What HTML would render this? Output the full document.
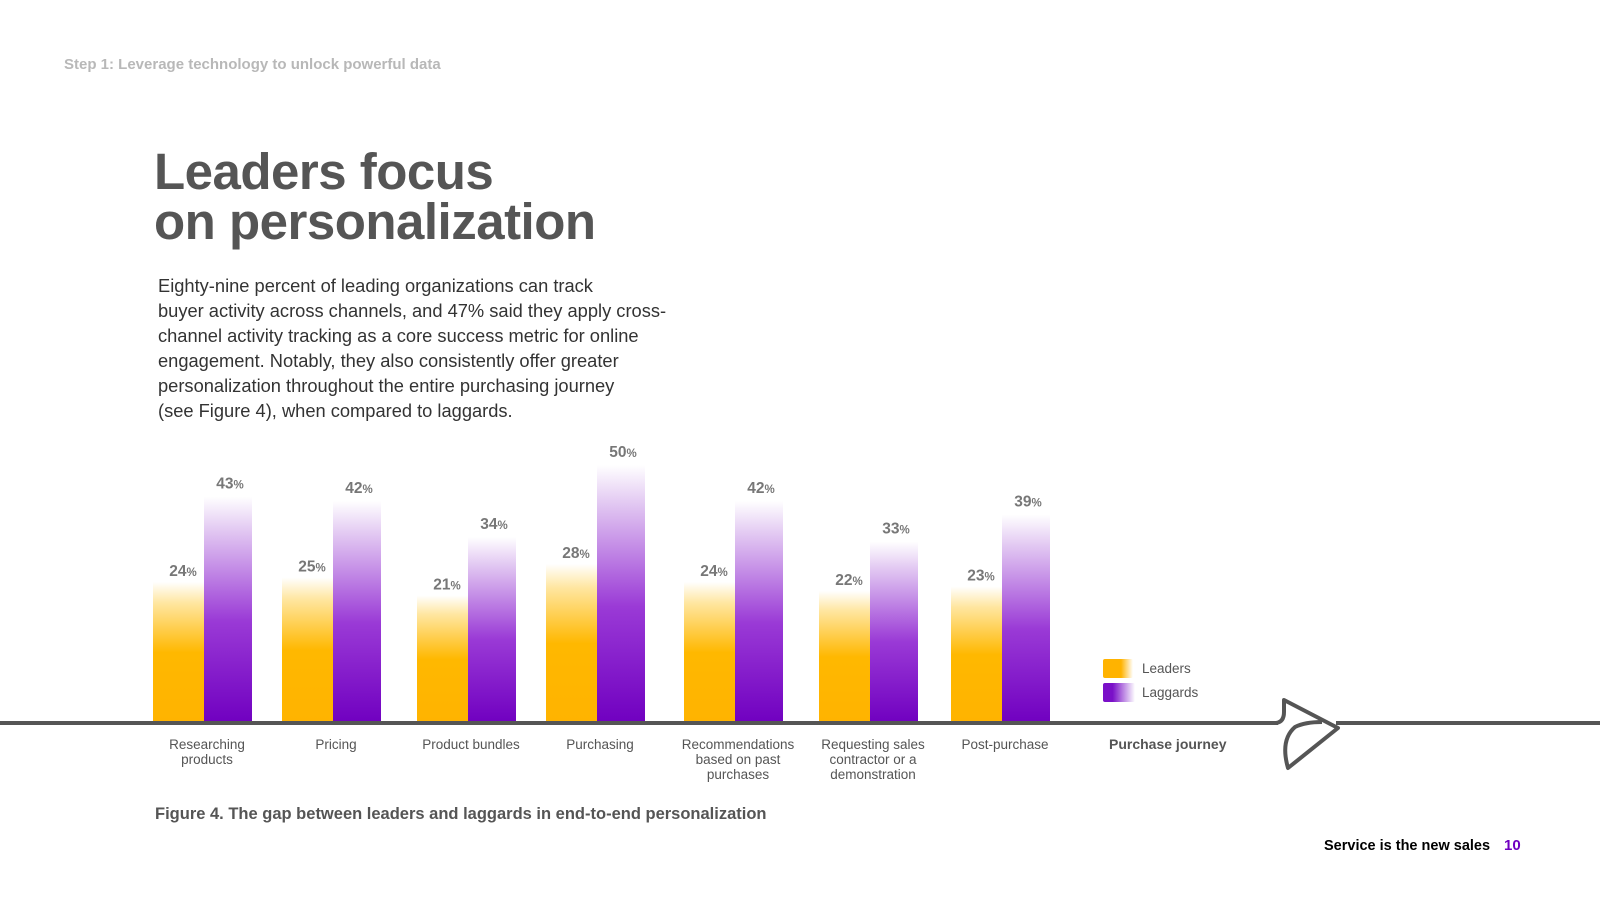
<!DOCTYPE html>
<html><head><meta charset="utf-8">
<style>
body{margin:0;width:1600px;height:900px;background:#fff;overflow:hidden;position:relative;font-family:"Liberation Sans",sans-serif;}
.abs{position:absolute;margin:0;}
#step{left:64px;top:56px;font-size:15px;font-weight:bold;color:#b8b8b8;}
#title{left:154px;top:147px;font-size:51px;font-weight:bold;color:#555;line-height:50px;letter-spacing:-0.5px;}
#body{left:158px;top:273px;font-size:18.3px;color:#333;line-height:25px;}
#caption{left:155px;top:805px;font-size:16.5px;font-weight:bold;color:#555;}
#footer{left:1324px;top:837px;font-size:14.5px;font-weight:bold;color:#000;}
#footer span{color:#7000c0;margin-left:14px;font-size:15px;}
</style></head><body>
<p class="abs" id="step">Step 1: Leverage technology to unlock powerful data</p>
<h1 class="abs" id="title">Leaders focus<br>on personalization</h1>
<p class="abs" id="body">Eighty-nine percent of leading organizations can track<br>buyer activity across channels, and 47% said they apply cross-<br>channel activity tracking as a core success metric for online<br>engagement. Notably, they also consistently offer greater<br>personalization throughout the entire purchasing journey<br>(see Figure 4), when compared to laggards.</p>
<svg id="chart" class="abs" style="left:0;top:0" width="1600" height="900">
<defs>
<linearGradient id="gL" x1="0" y1="1" x2="0" y2="0"><stop offset="0" stop-color="#ffb300"/><stop offset="0.5" stop-color="#ffb800"/><stop offset="0.85" stop-color="#ffe6a0"/><stop offset="1" stop-color="#fff"/></linearGradient>
<linearGradient id="gG" x1="0" y1="1" x2="0" y2="0"><stop offset="0" stop-color="#7000c0"/><stop offset="0.45" stop-color="#9a3ad6"/><stop offset="0.85" stop-color="#e2c8f2"/><stop offset="1" stop-color="#fff"/></linearGradient>
<linearGradient id="lgL" x1="0" y1="0" x2="1" y2="0"><stop offset="0.6" stop-color="#ffb300"/><stop offset="1" stop-color="#fff"/></linearGradient>
<linearGradient id="lgG" x1="0" y1="0" x2="1" y2="0"><stop offset="0.3" stop-color="#7a10c8"/><stop offset="1" stop-color="#fff"/></linearGradient>
</defs>
<g id="bars"></g>
<rect x="0" y="721" width="1278" height="4" fill="#555"/>
<rect x="1336" y="721" width="264" height="4" fill="#555"/>
<path d="M1276 723 Q1284 722 1284 712 L1284 700 L1338 728 L1288 768 Q1280 740 1295 727 Q1305 722 1322 722" fill="none" stroke="#555" stroke-width="4" stroke-linejoin="round"/>
<rect x="1103" y="659" width="30" height="19" rx="2" fill="url(#lgL)"/>
<text x="1142" y="673" font-size="13.5" fill="#555">Leaders</text>
<rect x="1103" y="683" width="32" height="19" rx="2" fill="url(#lgG)"/>
<text x="1142" y="697" font-size="13.5" fill="#555">Laggards</text>
<text x="1109" y="749" font-size="14" font-weight="bold" fill="#555">Purchase journey</text>
</svg>
<p class="abs" id="caption">Figure 4. The gap between leaders and laggards in end-to-end personalization</p>
<p class="abs" id="footer">Service is the new sales<span>10</span></p>
<script>
const categories = [["Researching","products"],["Pricing"],["Product bundles"],["Purchasing"],["Recommendations","based on past","purchases"],["Requesting sales","contractor or a","demonstration"],["Post-purchase"]];
const leaders = [24,25,21,28,24,22,23];
const laggards = [43,42,34,50,42,33,39];
const groupCenters = [207,336,471,600,738,873,1005];
const BASE = 723;
function barH(v){ return 33 + 4.5*v; }
function yOf(v){ return BASE - barH(v); }
const NS="http://www.w3.org/2000/svg";
const g=document.getElementById('bars');
function mk(tag,attrs){const e=document.createElementNS(NS,tag);for(const k in attrs)e.setAttribute(k,attrs[k]);g.appendChild(e);return e;}
function label(x,y,v,name){
  const t=mk('text',{x:x,y:y,'font-size':15.5,'font-weight':'bold',fill:'#777','text-anchor':'middle'});
  
  
  t.textContent=v;
  const s=document.createElementNS(NS,'tspan');s.setAttribute('font-size','11.5');s.textContent='%';t.appendChild(s);
}
categories.forEach((c,i)=>{
  const cx=groupCenters[i];
  const lx=cx-54, gx=cx-3;
  const r1=mk('rect',{x:lx,y:yOf(leaders[i]),width:52,height:barH(leaders[i]),fill:'url(#gL)'});
  
  
  const r2=mk('rect',{x:gx,y:yOf(laggards[i]),width:48,height:barH(laggards[i]),fill:'url(#gG)'});
  
  
  label(lx+30,yOf(leaders[i])-6,leaders[i],'value-leaders-'+(i+1));
  label(gx+26,yOf(laggards[i])-8,laggards[i],'value-laggards-'+(i+1));
  const t=mk('text',{x:cx,y:749,'font-size':13.5,fill:'#555','text-anchor':'middle'});
  
  
  c.forEach((line,j)=>{const s=document.createElementNS(NS,'tspan');s.setAttribute('x',cx);s.setAttribute('dy',j?15:0);s.textContent=line;t.appendChild(s);});
});
</script>
</body></html>
